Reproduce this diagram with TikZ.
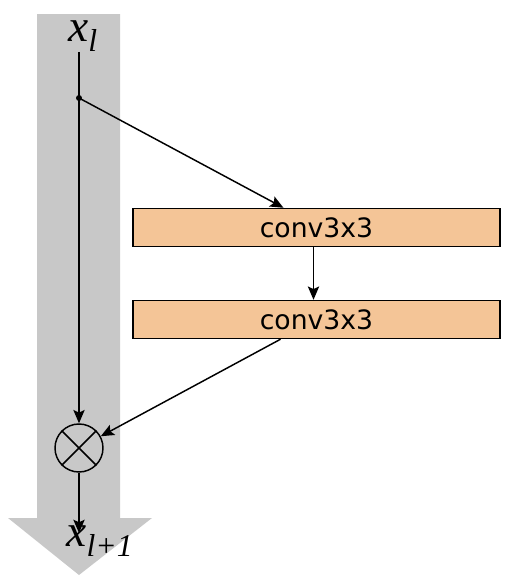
\documentclass[tikz,border=0pt]{standalone}
\usepackage{fontspec}
\newfontfamily\boxfont{DejaVu Sans}
\newfontfamily\varfont{Liberation Serif}
\usetikzlibrary{arrows.meta,positioning,calc}
\definecolor{convfill}{HTML}{F4C597}
\definecolor{bandgray}{HTML}{C8C8C8}

\begin{document}
\begin{tikzpicture}[
    x=0.75pt, y=-0.75pt,
    conv/.style={draw, line width=1.1pt, fill=convfill, minimum width=275pt, minimum height=28.5pt, inner sep=0pt, font=\boxfont\fontsize{20}{24}\selectfont},
    sumnode/.style={draw, circle, line width=1.1pt, minimum size=36pt, inner sep=0pt},
    var/.style={inner sep=0pt, font=\varfont\itshape\fontsize{34}{40}\selectfont},
    arrow/.style={-{Stealth[length=10pt,width=8.5pt,inset=2pt]}, line width=1.1pt}
  ]
  \useasboundingbox (0,0) rectangle (508,579);
  % identity band
  \fill[bandgray] (37,14) -- (120,14) -- (120,518) -- (152,518) -- (79,575) -- (8,518) -- (37,518) -- cycle;

  \node[var] (xin) at (83,36) {x\textsubscript{l}};
  \coordinate (split) at (79,98);
  \node[conv] (c1) at (316.5,227.5) {conv3x3};
  \node[conv] (c2) at (316.5,319.5) {conv3x3};
  \node[sumnode] (sum) at (79,448) {};
  \coordinate (outtip) at (79,533);
  \node[var] (xout) at (100,541) {x\textsubscript{l+1}};

  \draw[line width=1.1pt] (split |- xin.south) -- (split);
  \fill (split) circle (3);
  \draw[arrow] (split) -- ($(c1.north)+(-33,0)$);
  \draw[arrow] (split) -- (sum);
  \draw[arrow] ($(c1.south)+(-3,0)$) -- ($(c2.north)+(-3,0)$);
  \draw[arrow] ($(c2.south)+(-36,0)$) -- (sum);
  \draw[line width=1.1pt] (sum.north west) -- (sum.south east) (sum.north east) -- (sum.south west);
  \draw[arrow] (sum) -- (outtip);
\end{tikzpicture}
\end{document}
